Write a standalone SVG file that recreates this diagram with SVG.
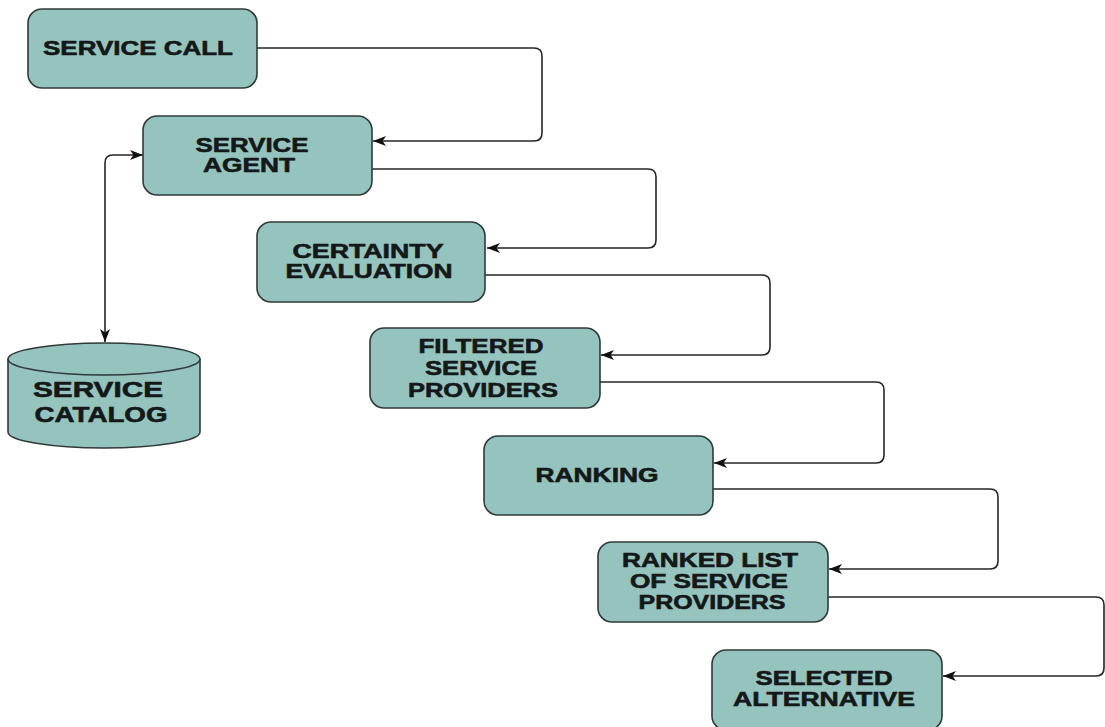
<svg xmlns="http://www.w3.org/2000/svg" width="1105" height="727" viewBox="0 0 1105 727">
<defs>
<style>
.box{fill:#95c4be;stroke:#2f3a39;stroke-width:1.6}
.t{font-family:"Liberation Sans",Arial,sans-serif;font-weight:bold;font-size:20px;fill:#141818;text-anchor:middle;stroke:#141818;stroke-width:0.6}
.tc{font-size:22px}
.c{fill:none;stroke:#262626;stroke-width:1.6}
</style>
<marker id="ah" viewBox="0 0 13 10" refX="13" refY="5" markerWidth="13" markerHeight="10" markerUnits="userSpaceOnUse" orient="auto-start-reverse">
<path d="M0,0 L13,5 L0,10 L3.5,5 z" fill="#111"/>
</marker>
</defs>
<rect width="1105" height="727" fill="#ffffff"/>
<g id="connectors">
<path class="c" d="M257,48 H534 Q542,48 542,56 V133 Q542,141 534,141 H373" marker-end="url(#ah)"/>
<path class="c" d="M372,169 H648 Q656,169 656,177 V240 Q656,248 648,248 H487" marker-end="url(#ah)"/>
<path class="c" d="M485,275 H762 Q770,275 770,283 V347 Q770,355 762,355 H601" marker-end="url(#ah)"/>
<path class="c" d="M600,382 H876 Q884,382 884,390 V455 Q884,463 876,463 H714" marker-end="url(#ah)"/>
<path class="c" d="M713,489 H990 Q998,489 998,497 V561 Q998,569 990,569 H829" marker-end="url(#ah)"/>
<path class="c" d="M828,597 H1096 Q1104,597 1104,605 V668 Q1104,676 1096,676 H943" marker-end="url(#ah)"/>
<path class="c" d="M105,342 V163 Q105,155 113,155 H143" marker-start="url(#ah)" marker-end="url(#ah)"/>
</g>
<g id="service-call">
<rect class="box" x="28" y="9" width="229" height="79" rx="14"/>
<text class="t" x="138" y="55" textLength="190" lengthAdjust="spacingAndGlyphs">SERVICE CALL</text>
</g>
<g id="service-agent">
<rect class="box" x="143" y="116" width="229" height="79" rx="14"/>
<text class="t" x="252" y="152" textLength="113" lengthAdjust="spacingAndGlyphs">SERVICE</text>
<text class="t" x="249" y="172" textLength="92" lengthAdjust="spacingAndGlyphs">AGENT</text>
</g>
<g id="certainty-evaluation">
<rect class="box" x="257" y="222" width="228" height="80" rx="14"/>
<text class="t" x="368" y="258" textLength="151" lengthAdjust="spacingAndGlyphs">CERTAINTY</text>
<text class="t" x="369" y="278" textLength="167" lengthAdjust="spacingAndGlyphs">EVALUATION</text>
</g>
<g id="filtered-service-providers">
<rect class="box" x="370" y="328" width="230" height="80" rx="14"/>
<text class="t" x="481" y="353" textLength="125" lengthAdjust="spacingAndGlyphs">FILTERED</text>
<text class="t" x="481" y="375" textLength="112" lengthAdjust="spacingAndGlyphs">SERVICE</text>
<text class="t" x="483" y="397" textLength="150" lengthAdjust="spacingAndGlyphs">PROVIDERS</text>
</g>
<g id="ranking">
<rect class="box" x="484" y="436" width="229" height="79" rx="14"/>
<text class="t" x="597" y="482" textLength="123" lengthAdjust="spacingAndGlyphs">RANKING</text>
</g>
<g id="ranked-list">
<rect class="box" x="598" y="542" width="230" height="80" rx="14"/>
<text class="t" x="710" y="567" textLength="176" lengthAdjust="spacingAndGlyphs">RANKED LIST</text>
<text class="t" x="709" y="588" textLength="158" lengthAdjust="spacingAndGlyphs">OF SERVICE</text>
<text class="t" x="712" y="609" textLength="147" lengthAdjust="spacingAndGlyphs">PROVIDERS</text>
</g>
<g id="selected-alternative">
<rect class="box" x="712" y="650" width="230" height="80" rx="14"/>
<text class="t" x="824" y="685" textLength="137" lengthAdjust="spacingAndGlyphs">SELECTED</text>
<text class="t" x="824" y="706" textLength="182" lengthAdjust="spacingAndGlyphs">ALTERNATIVE</text>
</g>
<g id="service-catalog">
<path class="box" d="M8,359 V432 A96,16 0 0 0 200,432 V359"/>
<ellipse class="box" cx="104" cy="359" rx="96" ry="16"/>
<text class="t tc" x="98" y="397" textLength="130" lengthAdjust="spacingAndGlyphs">SERVICE</text>
<text class="t tc" x="101" y="422" textLength="133" lengthAdjust="spacingAndGlyphs">CATALOG</text>
</g>
</svg>
